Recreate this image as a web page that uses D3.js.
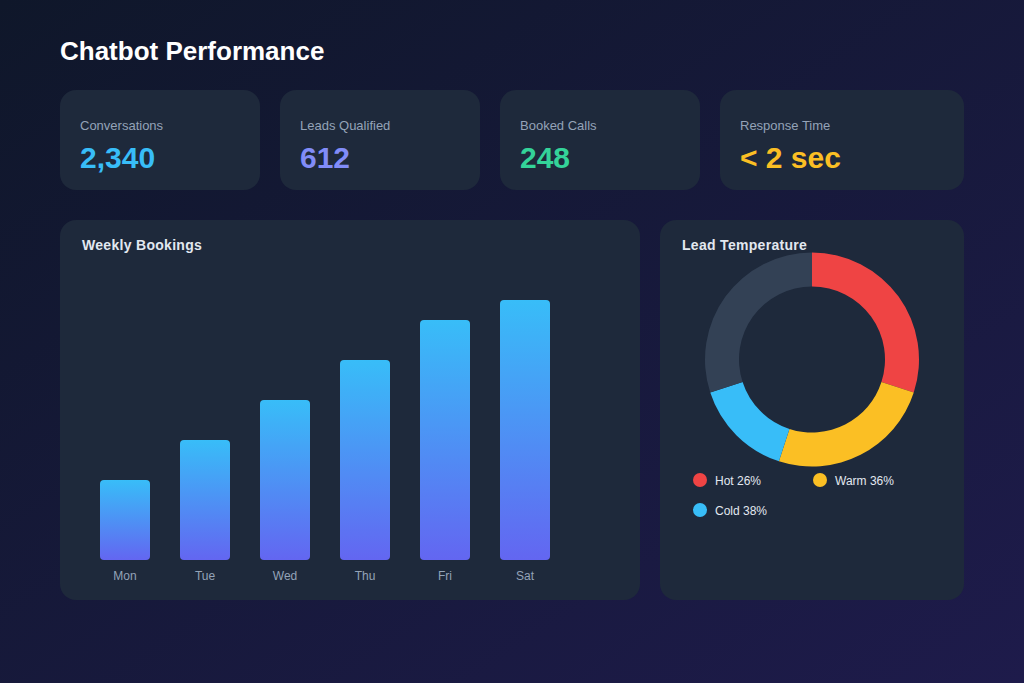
<!DOCTYPE html>
<html><head><meta charset="utf-8">
<script src="https://cdn.jsdelivr.net/npm/d3@7"></script>
<style>
html,body{margin:0;padding:0;background:#0f172a;}
svg{display:block;font-family:"Liberation Sans",Arial,Helvetica,sans-serif;}
</style></head>
<body>
<svg id="c" width="1024" height="683"></svg>
<script>
const title = "Chatbot Performance";
const kpiLabels = ["Conversations","Leads Qualified","Booked Calls","Response Time"];
const kpiValues = ["2,340","612","248","< 2 sec"];
const kpiColors = ["#38bdf8","#818cf8","#34d399","#fbbf24"];
const days = ["Mon","Tue","Wed","Thu","Fri","Sat"];
const bookings = [20,30,40,50,60,65];
const tempLabels = ["Hot","Warm","Cold"];
const tempLegendPct = [26,36,38];
const tempSlices = [30,25,15,30];
const tempColors = ["#ef4444","#fbbf24","#38bdf8","#334155"];

const svg = d3.select("#c");
const defs = svg.append("defs");
const bg = defs.append("linearGradient").attr("id","bg").attr("x1","0").attr("y1","0").attr("x2","1").attr("y2","1");
bg.append("stop").attr("offset","0").attr("stop-color","#0f172a");
bg.append("stop").attr("offset","1").attr("stop-color","#1e1b4b");
const bar = defs.append("linearGradient").attr("id","bar").attr("x1","0").attr("y1","0").attr("x2","0").attr("y2","1");
bar.append("stop").attr("offset","0").attr("stop-color","#38bdf8");
bar.append("stop").attr("offset","1").attr("stop-color","#6366f1");

svg.append("rect").attr("width",1024).attr("height",683).attr("fill","url(#bg)");
svg.append("text").attr("x",60).attr("y",60).attr("fill","#ffffff").attr("font-size",26).attr("font-weight","bold").text(title);

// KPI cards
const cardX = [60,280,500,720], cardW = [200,200,200,244];
const cards = svg.selectAll("g.kpi").data(kpiLabels).enter().append("g").attr("class","kpi")
  .attr("transform",(d,i)=>`translate(${cardX[i]},90)`);
cards.append("rect").attr("width",(d,i)=>cardW[i]).attr("height",100).attr("rx",16).attr("fill","#1e293b");
cards.append("text").attr("x",20).attr("y",40).attr("font-size",13).attr("fill","#94a3b8").text(d=>d);
cards.append("text").attr("x",20).attr("y",78).attr("font-size",30).attr("font-weight","bold")
  .attr("fill",(d,i)=>kpiColors[i]).text((d,i)=>kpiValues[i]);

// Bar panel
svg.append("rect").attr("x",60).attr("y",220).attr("width",580).attr("height",380).attr("rx",16).attr("fill","#1e293b");
svg.append("text").attr("x",82).attr("y",250).attr("font-size",14).attr("letter-spacing",0.3).attr("font-weight","bold").attr("fill","#e2e8f0").text("Weekly Bookings");
const x = d3.scaleBand().domain(days).range([75,575]).paddingInner(0.375).paddingOuter(0.3125);
const y = d3.scaleLinear().domain([0,75]).range([560,260]);
svg.selectAll("rect.bar").data(bookings).enter().append("rect").attr("class","bar")
  .attr("x",(d,i)=>x(days[i])).attr("y",d=>y(d)).attr("width",x.bandwidth()).attr("height",d=>y(0)-y(d))
  .attr("rx",4).attr("fill","url(#bar)");
const xAxis = svg.append("g").attr("transform","translate(0,560)").call(d3.axisBottom(x).tickSize(0).tickPadding(11));
xAxis.select(".domain").remove();
xAxis.selectAll("text").attr("fill","#94a3b8").attr("font-size",12).attr("font-family","Liberation Sans, Arial, sans-serif");

// Donut panel
svg.append("rect").attr("x",660).attr("y",220).attr("width",304).attr("height",380).attr("rx",16).attr("fill","#1e293b");
svg.append("text").attr("x",682).attr("y",250).attr("font-size",14).attr("letter-spacing",0.3).attr("font-weight","bold").attr("fill","#e2e8f0").text("Lead Temperature");
const pie = d3.pie().sort(null)(tempSlices);
const arc = d3.arc().innerRadius(73).outerRadius(107);
svg.append("g").attr("transform","translate(812,359.5)").selectAll("path").data(pie).enter().append("path")
  .attr("d",arc).attr("fill",(d,i)=>tempColors[i]);
const lx = [700,820,700], ly = [480,480,510];
const leg = svg.selectAll("g.leg").data(tempLabels).enter().append("g").attr("class","leg")
  .attr("transform",(d,i)=>`translate(${lx[i]},${ly[i]})`);
leg.append("circle").attr("r",7).attr("fill",(d,i)=>tempColors[i]);
leg.append("text").attr("x",15).attr("y",4.5).attr("font-size",12).attr("fill","#e2e8f0").text((d,i)=>`${d} ${tempLegendPct[i]}%`);
</script>
</body></html>
